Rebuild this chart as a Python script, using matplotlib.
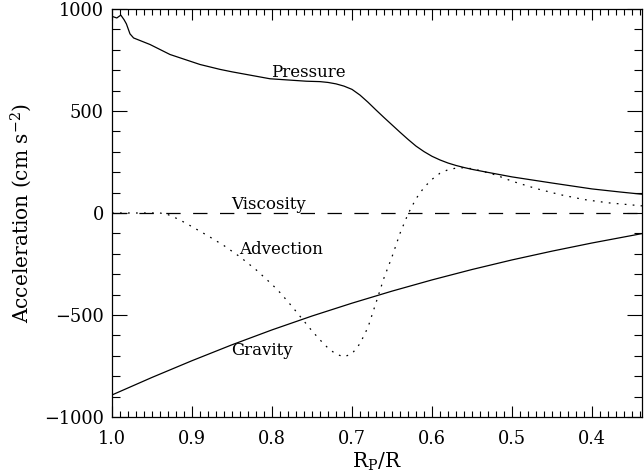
import matplotlib
matplotlib.use("Agg")
import matplotlib.pyplot as plt
from matplotlib.ticker import MultipleLocator, FuncFormatter

plt.rcParams['font.family'] = ['DejaVu Serif']
plt.rcParams['mathtext.fontset'] = 'dejavuserif'

# ---- data ----
pressure_x = [1.0, 0.994, 0.989, 0.985, 0.982, 0.9775, 0.973, 0.9525, 0.9275, 0.89,
              0.865, 0.85, 0.8025, 0.757, 0.74, 0.73, 0.72, 0.71, 0.70, 0.69,
              0.68, 0.67, 0.66, 0.65, 0.64, 0.63, 0.62, 0.61, 0.60, 0.59,
              0.58, 0.57, 0.56, 0.55, 0.53, 0.50, 0.45, 0.40, 0.365, 0.3375]
pressure_y = [964, 956, 970, 948, 927, 878, 858, 826, 777, 728,
              704, 692, 658, 646, 644, 640, 633, 622, 606, 578,
              543, 505, 468, 432, 396, 361, 328, 301, 278, 260,
              245, 233, 223, 214, 199, 177, 147, 118, 103, 92]

advection_x = [1.0, 0.94, 0.93, 0.92, 0.91, 0.90, 0.88, 0.86, 0.84, 0.82,
               0.80, 0.79, 0.78, 0.77, 0.76, 0.75, 0.74, 0.73, 0.72, 0.71,
               0.70, 0.69, 0.68, 0.67, 0.66, 0.65, 0.64, 0.63, 0.62, 0.61,
               0.60, 0.59, 0.58, 0.57, 0.56, 0.55, 0.54, 0.52, 0.50, 0.47,
               0.44, 0.41, 0.38, 0.3375]
advection_y = [0, 0, -8, -25, -45, -67, -112, -160, -215, -278,
               -350, -390, -435, -482, -530, -578, -622, -662, -692, -705,
               -690, -640, -560, -440, -318, -215, -100, -5, 70, 125,
               165, 195, 212, 220, 222, 217, 208, 186, 156, 120,
               90, 66, 50, 35]

gravity_x = [1.0, 0.95, 0.90, 0.85, 0.80, 0.75, 0.70, 0.65, 0.60, 0.55,
             0.50, 0.45, 0.40, 0.3375]
gravity_y = [-892, -806, -724, -646, -573, -505, -442, -383, -328, -277,
             -230, -187, -147, -101]

viscosity_x = [1.0, 0.3375]
viscosity_y = [0, 0]

labels = ["Pressure", "Viscosity", "Advection", "Gravity"]
label_x = [0.754, 0.804, 0.789, 0.812]
label_y = [690, 40, -181, -676]

# ---- figure ----
fig = plt.figure(figsize=(6.44, 4.75), dpi=100)
ax = fig.add_axes([112/644, (475-417)/475, (642-112)/644, (417-9)/475])

lw = 0.9
ax.plot(pressure_x, pressure_y, color='black', lw=lw)
ax.plot(gravity_x, gravity_y, color='black', lw=lw)
ax.plot(viscosity_x, viscosity_y, color='black', lw=lw, linestyle=(0, (11.5, 10)))
ax.plot(advection_x, advection_y, color='black', lw=lw, linestyle=(0, (1.4, 5)))

for t, x, y in zip(labels, label_x, label_y):
    ax.text(x, y, t, ha='center', va='center', fontsize=12)

ax.set_xlim(1.0, 0.3375)
ax.set_ylim(-1000, 1000)

ax.xaxis.set_major_locator(MultipleLocator(0.1))
ax.xaxis.set_minor_locator(MultipleLocator(0.01))
ax.yaxis.set_major_locator(MultipleLocator(500))
ax.yaxis.set_minor_locator(MultipleLocator(100))
ax.xaxis.set_major_formatter(FuncFormatter(lambda v, p: f"{v:.1f}"))
ax.yaxis.set_major_formatter(FuncFormatter(lambda v, p: f"{int(round(v))}".replace('-', '\u2212')))

ax.tick_params(axis='both', which='both', direction='in', top=True, right=True,
               width=0.8, labelsize=12.8)
ax.tick_params(axis='x', which='major', length=8, pad=9)
ax.tick_params(axis='x', which='minor', length=4)
ax.tick_params(axis='y', which='major', length=11, pad=6)
ax.tick_params(axis='y', which='minor', length=6)
for s in ax.spines.values():
    s.set_linewidth(0.9)

ax.set_xlabel(r"R$_{\mathrm{P}}$/R", fontsize=14.5, labelpad=2)
ax.set_ylabel(r"Acceleration (cm s$^{-2}$)", fontsize=14.5, labelpad=7)

fig.savefig("out.png", dpi=100)
